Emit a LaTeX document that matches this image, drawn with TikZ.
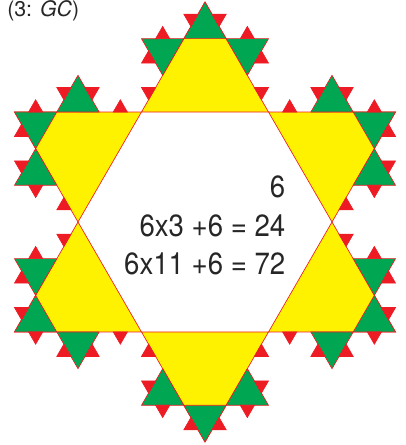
\documentclass[tikz,border=0pt]{standalone}
\usepackage{fontspec}
\setmainfont{TeX Gyre Heros}
\newfontfamily\countfont[FakeStretch=0.9]{TeX Gyre Heros}
\usetikzlibrary{calc}
\definecolor{StarYellow}{HTML}{FFF200}
\definecolor{StarGreen}{HTML}{00A651}
\definecolor{StarRed}{HTML}{ED1C24}
\tikzset{
    % Base triangle style
    basetri/.style={
        draw=StarRed,
        line width=0.5pt,
        line join=miter
    },
    % Hexagram points
    yellowtri/.style={
        basetri,
        fill=StarYellow
    },
    % Second generation
    greentri/.style={
        basetri,
        fill=StarGreen
    },
    % Third generation
    redtri/.style={
        basetri,
        fill=StarRed
    },
    % Count lines
    counttext/.style={
        anchor=base east,
        text=black!85,
        font=\countfont\fontsize{23}{27}\selectfont
    }
}
% Triangle on the middle third of (#2)--(#3), pointing left of the way, tip (#4)
\newcommand{\kochbump}[4]{%
    \path ($(#2)!1/3!(#3)$) coordinate (#4-s) ($(#2)!2/3!(#3)$) coordinate (#4-e);
    \path ($(#4-s)!1!60:(#4-e)$) coordinate (#4);
    \filldraw[#1] (#4-s) -- (#4) -- (#4-e) -- cycle;
}

\begin{document}
\begin{tikzpicture}[x=0.75pt, y=0.75pt]
        \useasboundingbox (0,0) rectangle (405,445);
        \coordinate (O) at (205,223);

        % Yellow points round the hexagon
        \foreach \k in {0,...,5}{
            \coordinate (p\k) at ($(O)+(90+60*\k:220)$);
            \coordinate (l\k) at ($(O)+(120+60*\k:127)$);
            \coordinate (r\k) at ($(O)+(60+60*\k:127)$);
            \filldraw[yellowtri] (l\k) -- (p\k) -- (r\k) -- cycle;
        }

        % Green: tip of each point and bumps on its sides
        \foreach \k in {0,...,5}{
            \filldraw[greentri] (p\k) -- ($(p\k)!1/3!(l\k)$) -- ($(p\k)!1/3!(r\k)$) -- cycle;
            \kochbump{greentri}{l\k}{p\k}{gl\k}
            \kochbump{greentri}{p\k}{r\k}{gr\k}
        }

        % Red bumps on every outer piece
        \foreach \k in {0,...,5}{
            \kochbump{redtri}{l\k}{gl\k-s}{ra\k}
            \kochbump{redtri}{gl\k-s}{gl\k}{rb\k}
            \kochbump{redtri}{gl\k}{gl\k-e}{rc\k}
            \kochbump{redtri}{gl\k-e}{p\k}{rd\k}
            \kochbump{redtri}{p\k}{gr\k-s}{re\k}
            \kochbump{redtri}{gr\k-s}{gr\k}{rf\k}
            \kochbump{redtri}{gr\k}{gr\k-e}{rg\k}
            \kochbump{redtri}{gr\k-e}{r\k}{rh\k}
        }

        % Counts
        \node[counttext] (c1) at (290,247) {6};
        \node[counttext] (c2) at (290,208) {6x3 +6 = 24};
        \node[counttext] (c3) at (290,170) {6x11 +6 = 72};

        % Label
        \node[anchor=base west, inner sep=0pt, text=black!85, font=\fontsize{16}{19}\selectfont] (lbl) at (7,428) {(3: \textit{GC})};
    \end{tikzpicture}
\end{document}
